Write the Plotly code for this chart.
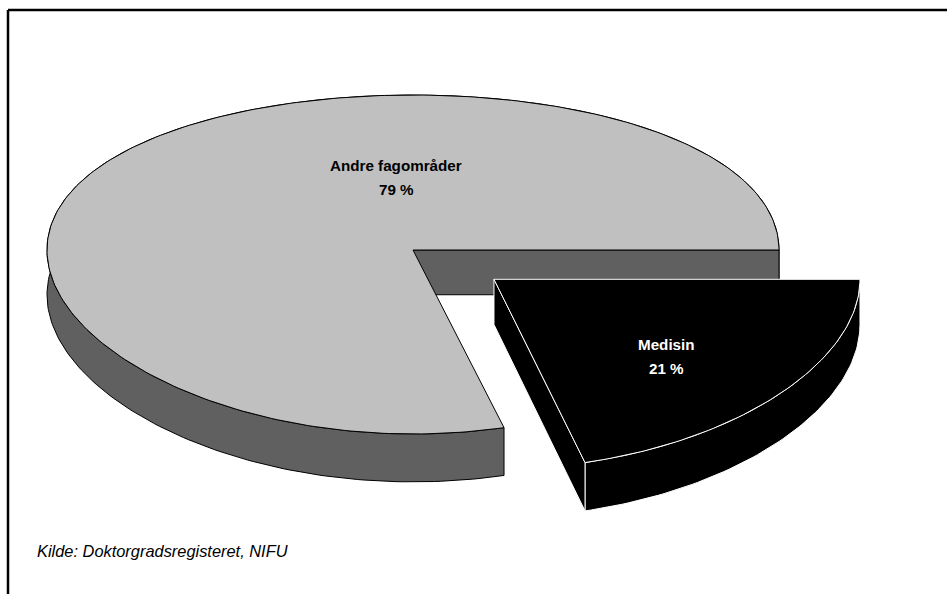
import numpy as np
import plotly.graph_objects as go

# ---------------- data ----------------
labels = ["Medisin", "Andre fagområder"]
values = [21, 79]
pct_text = ["21 %", "79 %"]
pull = [0.28, 0.0]
source_text = "Kilde: Doktorgradsregisteret, NIFU"

# ---------------- style ----------------
top_colors = ["#000000", "#C0C0C0"]
side_colors = ["#000000", "#606060"]
edge_colors = ["#FFFFFF", "#000000"]
label_colors = ["#FFFFFF", "#000000"]
label_pos = [(666, 344, 368), (396, 165, 189)]  # x, y line1, y line2 (pixel space)
FONT = "Arial, 'Liberation Sans', sans-serif"

W, Hpx = 947, 594

# ---------------- 3D projection ----------------
CX, CY = 413.0, 250.0
A = 366.0
E = np.radians(25)
cE, sE = np.cos(E), np.sin(E)
L = 11.7 * cE
F = 1968.5 / np.tan(E)
DEPTH = 526.0 / F


def proj(X, Y, Z):
    X = np.asarray(X, float)
    Y = np.asarray(Y, float)
    Z = np.asarray(Z, float) * np.ones_like(X)
    dist = L - (Y * cE + Z * sE)
    u = Z * cE - Y * sE
    return CX + A * X, CY - F * u / dist


def arc(t0, t1, n=None):
    if n is None:
        n = max(8, int(abs(t1 - t0) / np.radians(1)))
    return np.linspace(t0, t1, n)


fig = go.Figure()

total = sum(values)
cum = 0.0
slices = []
for i, v in enumerate(values):
    t0 = 2 * np.pi * cum / total
    t1 = 2 * np.pi * (cum + v) / total
    cum += v
    slices.append((i, t0, t1))

# draw unpulled first, then pulled ones
order = sorted(slices, key=lambda s: pull[s[0]])


def add_poly(xs, ys, fill, line):
    fig.add_trace(go.Scatter(
        x=list(xs) + [xs[0]], y=list(ys) + [ys[0]],
        mode="lines", fill="toself", fillcolor=fill,
        line=dict(color=line, width=1), hoverinfo="skip", showlegend=False))


for i, t0, t1 in order:
    m = 0.5 * (t0 + t1)
    ox, oy = pull[i] * np.cos(m), pull[i] * np.sin(m)
    th = arc(t0, t1)
    # outer wall
    tx, ty = proj(ox + np.cos(th), oy + np.sin(th), 0.0)
    bx, by = proj(ox + np.cos(th[::-1]), oy + np.sin(th[::-1]), -DEPTH)
    add_poly(np.r_[tx, bx], np.r_[ty, by], side_colors[i], edge_colors[i])
    # cut faces visible to the viewer
    for t, vis in ((t1, np.cos(t1)), (t0, -np.cos(t0))):
        if vis > 1e-9:
            px, py = proj([ox, ox + np.cos(t), ox + np.cos(t), ox],
                          [oy, oy + np.sin(t), oy + np.sin(t), oy],
                          np.array([0, 0, -DEPTH, -DEPTH]))
            add_poly(px, py, side_colors[i], edge_colors[i])
    # top face
    ax_, ay_ = proj(ox + np.cos(th), oy + np.sin(th), 0.0)
    cx_, cy_ = proj([ox], [oy], 0.0)
    add_poly(np.r_[cx_, ax_], np.r_[cy_, ay_], top_colors[i], edge_colors[i])

# labels
for i in range(len(values)):
    x, y1, y2 = label_pos[i]
    for txt, yy in ((labels[i], y1), (pct_text[i], y2)):
        fig.add_annotation(x=x, y=yy, xref="x", yref="y", text=txt, showarrow=False,
                           font=dict(family=FONT, size=15.2, color=label_colors[i], weight="bold"),
                           xanchor="center", yanchor="middle")

fig.add_annotation(x=35, y=551, xref="x", yref="y", text=f"<i>{source_text}</i>", showarrow=False,
                   font=dict(family=FONT, size=16.4, color="#000000"), xanchor="left", yanchor="middle")

# frame lines (top & left)
fig.add_shape(type="line", xref="x", yref="y", x0=8, x1=W, y0=10, y1=10,
              line=dict(color="black", width=2.5))
fig.add_shape(type="line", xref="x", yref="y", x0=8, x1=8, y0=10, y1=Hpx,
              line=dict(color="black", width=2.5))

fig.update_layout(
    width=W, height=Hpx, margin=dict(l=0, r=0, t=0, b=0),
    paper_bgcolor="white", plot_bgcolor="white",
    xaxis=dict(range=[0, W], visible=False, fixedrange=True),
    yaxis=dict(range=[Hpx, 0], visible=False, fixedrange=True),
    showlegend=False,
)

fig.write_html(
    "out.html",
    config={"displayModeBar": False},
    post_script="document.body.style.margin='0';document.body.style.padding='0';"
                "document.documentElement.style.overflow='hidden';",
)
